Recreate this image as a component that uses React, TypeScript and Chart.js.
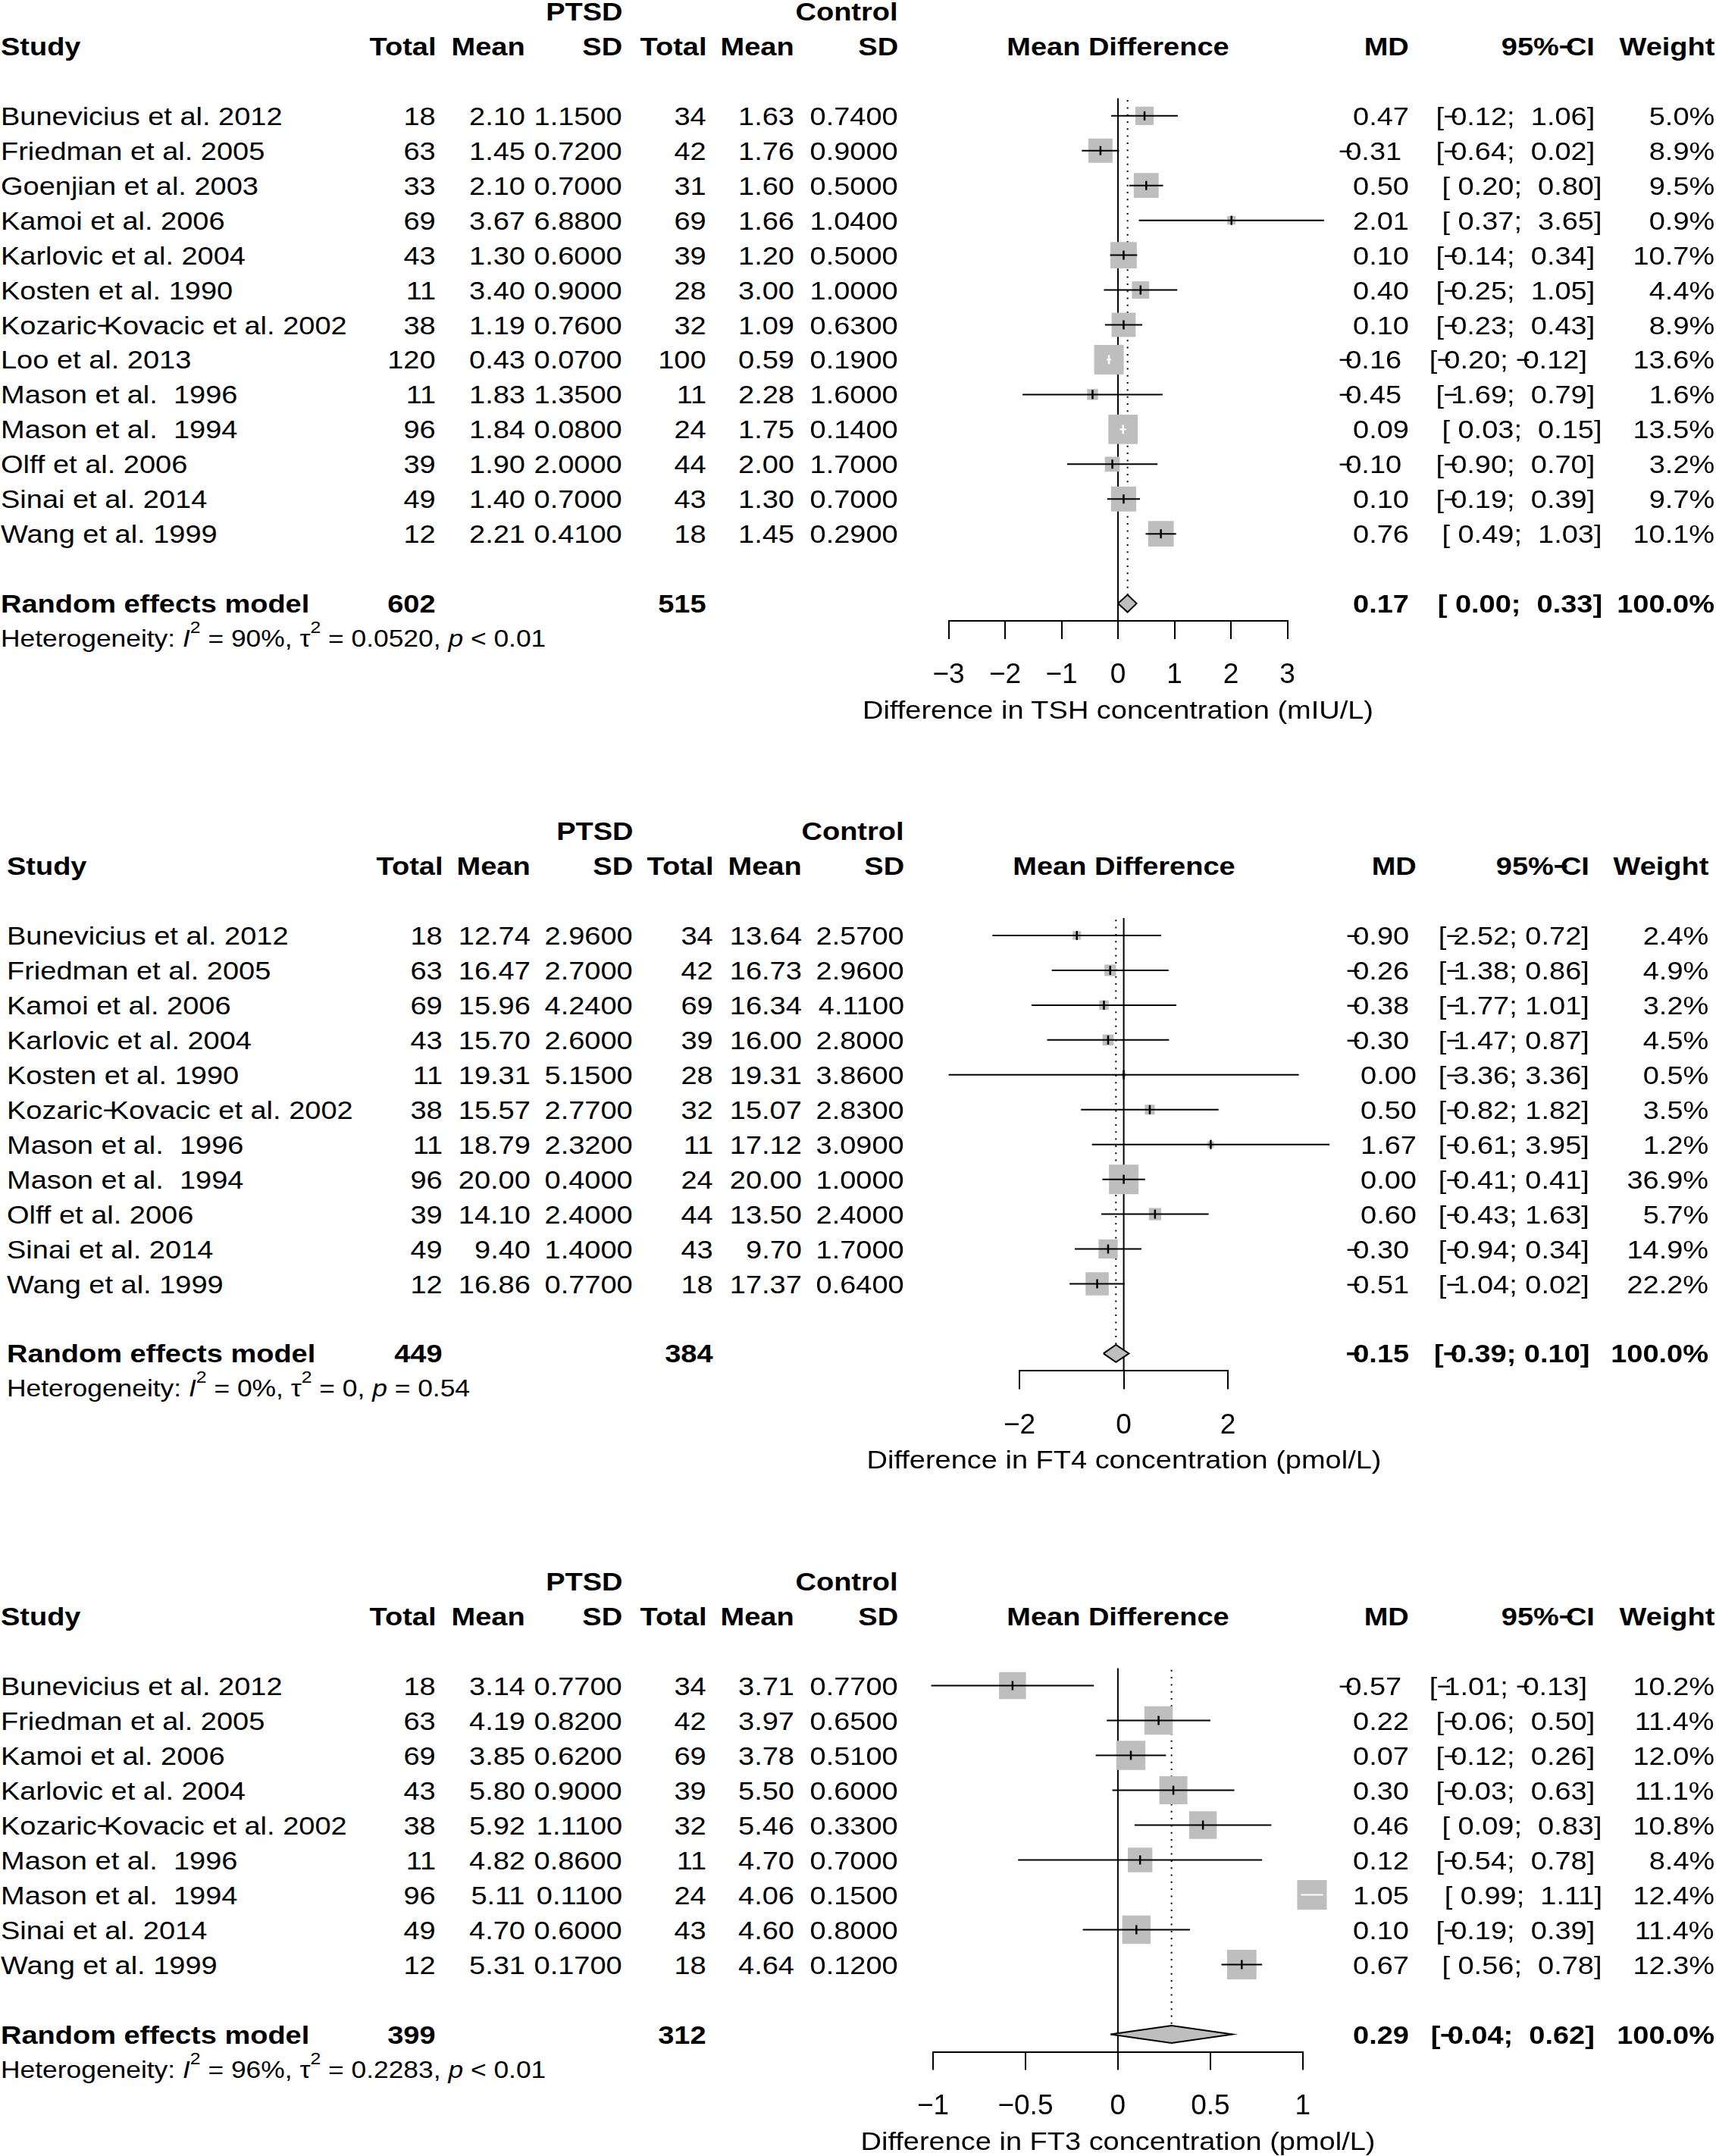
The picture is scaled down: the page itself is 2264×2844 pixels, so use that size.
import React, { useEffect, useRef } from "react";
import { Chart, registerables } from "chart.js";

Chart.register(...registerables);

// ================= DATA: TSH =================
const tshStudies = ["Bunevicius et al. 2012", "Friedman et al. 2005", "Goenjian et al. 2003", "Kamoi et al. 2006", "Karlovic et al. 2004", "Kosten et al. 1990", "Kozaric-Kovacic et al. 2002", "Loo et al. 2013", "Mason et al.  1996", "Mason et al.  1994", "Olff et al. 2006", "Sinai et al. 2014", "Wang et al. 1999"];
const tshPtsdTotal = [18, 63, 33, 69, 43, 11, 38, 120, 11, 96, 39, 49, 12];
const tshPtsdMean = [2.10, 1.45, 2.10, 3.67, 1.30, 3.40, 1.19, 0.43, 1.83, 1.84, 1.90, 1.40, 2.21];
const tshPtsdSD = [1.15, 0.72, 0.70, 6.88, 0.60, 0.90, 0.76, 0.07, 1.35, 0.08, 2.00, 0.70, 0.41];
const tshCtrlTotal = [34, 42, 31, 69, 39, 28, 32, 100, 11, 24, 44, 43, 18];
const tshCtrlMean = [1.63, 1.76, 1.60, 1.66, 1.20, 3.00, 1.09, 0.59, 2.28, 1.75, 2.00, 1.30, 1.45];
const tshCtrlSD = [0.74, 0.90, 0.50, 1.04, 0.50, 1.00, 0.63, 0.19, 1.60, 0.14, 1.70, 0.70, 0.29];
const tshMD = [0.47, -0.31, 0.50, 2.01, 0.10, 0.40, 0.10, -0.16, -0.45, 0.09, -0.10, 0.10, 0.76];
const tshLower = [-0.12, -0.64, 0.20, 0.37, -0.14, -0.25, -0.23, -0.20, -1.69, 0.03, -0.90, -0.19, 0.49];
const tshUpper = [1.06, 0.02, 0.80, 3.65, 0.34, 1.05, 0.43, -0.12, 0.79, 0.15, 0.70, 0.39, 1.03];
const tshWeight = [5.0, 8.9, 9.5, 0.9, 10.7, 4.4, 8.9, 13.6, 1.6, 13.5, 3.2, 9.7, 10.1];
const tshTotals = [602, 515];
const tshSummary = [0.17, 0.00, 0.33];
const tshHet = ["90%", "0.0520", "< 0.01"];
const tshTicks = [-3, -2, -1, 0, 1, 2, 3];
const tshTitle = "Difference in TSH concentration (mIU/L)";

// ================= DATA: FT4 =================
const ft4Studies = ["Bunevicius et al. 2012", "Friedman et al. 2005", "Kamoi et al. 2006", "Karlovic et al. 2004", "Kosten et al. 1990", "Kozaric-Kovacic et al. 2002", "Mason et al.  1996", "Mason et al.  1994", "Olff et al. 2006", "Sinai et al. 2014", "Wang et al. 1999"];
const ft4PtsdTotal = [18, 63, 69, 43, 11, 38, 11, 96, 39, 49, 12];
const ft4PtsdMean = [12.74, 16.47, 15.96, 15.70, 19.31, 15.57, 18.79, 20.00, 14.10, 9.40, 16.86];
const ft4PtsdSD = [2.96, 2.70, 4.24, 2.60, 5.15, 2.77, 2.32, 0.40, 2.40, 1.40, 0.77];
const ft4CtrlTotal = [34, 42, 69, 39, 28, 32, 11, 24, 44, 43, 18];
const ft4CtrlMean = [13.64, 16.73, 16.34, 16.00, 19.31, 15.07, 17.12, 20.00, 13.50, 9.70, 17.37];
const ft4CtrlSD = [2.57, 2.96, 4.11, 2.80, 3.86, 2.83, 3.09, 1.00, 2.40, 1.70, 0.64];
const ft4MD = [-0.90, -0.26, -0.38, -0.30, 0.00, 0.50, 1.67, 0.00, 0.60, -0.30, -0.51];
const ft4Lower = [-2.52, -1.38, -1.77, -1.47, -3.36, -0.82, -0.61, -0.41, -0.43, -0.94, -1.04];
const ft4Upper = [0.72, 0.86, 1.01, 0.87, 3.36, 1.82, 3.95, 0.41, 1.63, 0.34, 0.02];
const ft4Weight = [2.4, 4.9, 3.2, 4.5, 0.5, 3.5, 1.2, 36.9, 5.7, 14.9, 22.2];
const ft4Totals = [449, 384];
const ft4Summary = [-0.15, -0.39, 0.10];
const ft4Het = ["0%", "0", "= 0.54"];
const ft4Ticks = [-2, 0, 2];
const ft4Title = "Difference in FT4 concentration (pmol/L)";

// ================= DATA: FT3 =================
const ft3Studies = ["Bunevicius et al. 2012", "Friedman et al. 2005", "Kamoi et al. 2006", "Karlovic et al. 2004", "Kozaric-Kovacic et al. 2002", "Mason et al.  1996", "Mason et al.  1994", "Sinai et al. 2014", "Wang et al. 1999"];
const ft3PtsdTotal = [18, 63, 69, 43, 38, 11, 96, 49, 12];
const ft3PtsdMean = [3.14, 4.19, 3.85, 5.80, 5.92, 4.82, 5.11, 4.70, 5.31];
const ft3PtsdSD = [0.77, 0.82, 0.62, 0.90, 1.11, 0.86, 0.11, 0.60, 0.17];
const ft3CtrlTotal = [34, 42, 69, 39, 32, 11, 24, 43, 18];
const ft3CtrlMean = [3.71, 3.97, 3.78, 5.50, 5.46, 4.70, 4.06, 4.60, 4.64];
const ft3CtrlSD = [0.77, 0.65, 0.51, 0.60, 0.33, 0.70, 0.15, 0.80, 0.12];
const ft3MD = [-0.57, 0.22, 0.07, 0.30, 0.46, 0.12, 1.05, 0.10, 0.67];
const ft3Lower = [-1.01, -0.06, -0.12, -0.03, 0.09, -0.54, 0.99, -0.19, 0.56];
const ft3Upper = [-0.13, 0.50, 0.26, 0.63, 0.83, 0.78, 1.11, 0.39, 0.78];
const ft3Weight = [10.2, 11.4, 12.0, 11.1, 10.8, 8.4, 12.4, 11.4, 12.3];
const ft3Totals = [399, 312];
const ft3Summary = [0.29, -0.04, 0.62];
const ft3Het = ["96%", "0.2283", "< 0.01"];
const ft3Ticks = [-1, -0.5, 0, 0.5, 1];
const ft3Title = "Difference in FT3 concentration (pmol/L)";

// ================= STYLE / LAYOUT =================
const FONT = "'Liberation Sans', Arial, Helvetica, sans-serif";
const PAGE_W = 2264;
const PAGE_H = 2844;
const STRETCH = 1.12;
const MAIN_PX = 38 / STRETCH;
const HET_PX = 35.4 / STRETCH;
const D_SHIFT = 10;
const MINUS = "\u2212";
const GRAY = "#BEBEBE";

const TICK_LEN = 24;
const AX_FONT = 37;
const AX_LH = AX_FONT * 1.2;
const LABEL_CENTER = 72;
const TITLE_OFFSET = 117;
const TICK_PAD = LABEL_CENTER - TICK_LEN - AX_LH / 2;
const SCALE_H = TICK_LEN + 2 * TICK_PAD + AX_LH;

interface Cols { study: number; ptsdTotal: number; ptsdMean: number; ptsdSD: number; ctrlTotal: number; ctrlMean: number; ctrlSD: number; md: number; ci: number; weight: number; }
interface Layout { x0: number; unit: number; row0: number; sp: number; cols: Cols; }
interface PanelData {
  studies: string[]; ptsdTotal: number[]; ptsdMean: number[]; ptsdSD: number[];
  ctrlTotal: number[]; ctrlMean: number[]; ctrlSD: number[];
  md: number[]; lower: number[]; upper: number[]; weight: number[];
  totals: number[]; summary: number[]; het: string[]; ticks: number[]; title: string;
}

const colsTop: Cols = { study: 1, ptsdTotal: 575, ptsdMean: 692.5, ptsdSD: 821, ctrlTotal: 932, ctrlMean: 1048, ctrlSD: 1185, md: 1859, ci: 2114, weight: 2262 };
const colsMid: Cols = { study: 9, ptsdTotal: 584, ptsdMean: 700, ptsdSD: 835, ctrlTotal: 941, ctrlMean: 1058, ctrlSD: 1193, md: 1869, ci: 2107, weight: 2254 };

const panels: { d: PanelData; L: Layout }[] = [
  {
    d: { studies: tshStudies, ptsdTotal: tshPtsdTotal, ptsdMean: tshPtsdMean, ptsdSD: tshPtsdSD, ctrlTotal: tshCtrlTotal, ctrlMean: tshCtrlMean, ctrlSD: tshCtrlSD, md: tshMD, lower: tshLower, upper: tshUpper, weight: tshWeight, totals: tshTotals, summary: tshSummary, het: tshHet, ticks: tshTicks, title: tshTitle },
    L: { x0: 1475, unit: 74.5, row0: 152.8, sp: 45.95, cols: colsTop },
  },
  {
    d: { studies: ft4Studies, ptsdTotal: ft4PtsdTotal, ptsdMean: ft4PtsdMean, ptsdSD: ft4PtsdSD, ctrlTotal: ft4CtrlTotal, ctrlMean: ft4CtrlMean, ctrlSD: ft4CtrlSD, md: ft4MD, lower: ft4Lower, upper: ft4Upper, weight: ft4Weight, totals: ft4Totals, summary: ft4Summary, het: ft4Het, ticks: ft4Ticks, title: ft4Title },
    L: { x0: 1482.6, unit: 68.75, row0: 1234, sp: 45.95, cols: colsMid },
  },
  {
    d: { studies: ft3Studies, ptsdTotal: ft3PtsdTotal, ptsdMean: ft3PtsdMean, ptsdSD: ft3PtsdSD, ctrlTotal: ft3CtrlTotal, ctrlMean: ft3CtrlMean, ctrlSD: ft3CtrlSD, md: ft3MD, lower: ft3Lower, upper: ft3Upper, weight: ft3Weight, totals: ft3Totals, summary: ft3Summary, het: ft3Het, ticks: ft3Ticks, title: ft3Title },
    L: { x0: 1474.9, unit: 243.9, row0: 2223.5, sp: 46.0, cols: colsTop },
  },
];

// ================= HELPERS =================
const fmt = (v: number, d: number) => (v < 0 ? MINUS : "") + Math.abs(v).toFixed(d);

function ciStrings(lo: number[], hi: number[]): string[] {
  const padLo = lo.some((v) => v < 0);
  const padHi = hi.some((v) => v < 0);
  const f = (v: number, pad: boolean) => (v < 0 ? MINUS : pad ? " " : "") + Math.abs(v).toFixed(2);
  return lo.map((l, i) => `[${f(l, padLo)}; ${f(hi[i], padHi)}]`);
}

const MINUS_STYLE: React.CSSProperties = { display: "inline-block", width: "0.24em", transform: "scaleX(0.85)", transformOrigin: "left center" };
const SUP_STYLE: React.CSSProperties = { fontSize: "0.7em", verticalAlign: "0.8em", lineHeight: 0 };

function Txt({ x, y, align, text, bold }: { x: number; y: number; align: "left" | "right" | "center"; text: string; bold?: boolean }) {
  const parts = text.split(/[-\u2212]/);
  const nMinus = parts.length - 1;
  const kids: React.ReactNode[] = [];
  parts.forEach((p, i) => {
    if (i > 0) kids.push(<span key={`m${i}`} style={MINUS_STYLE}>{MINUS}</span>);
    if (p) kids.push(<span key={`t${i}`}>{p}</span>);
  });
  const style: React.CSSProperties = {
    position: "absolute", top: y - 25, height: 50, lineHeight: "50px", whiteSpace: "pre",
    fontSize: MAIN_PX, fontWeight: bold ? 700 : 400,
  };
  if (align === "left") Object.assign(style, { left: x, transform: `scaleX(${STRETCH})`, transformOrigin: "left center" });
  else if (align === "right") Object.assign(style, { right: PAGE_W - (x - nMinus * D_SHIFT), transform: `scaleX(${STRETCH})`, transformOrigin: "right center" });
  else Object.assign(style, { left: x, transform: `translateX(-50%) scaleX(${STRETCH})`, transformOrigin: "center center" });
  return <div style={style}>{kids}</div>;
}

function geometry(d: PanelData, L: Layout) {
  const R = d.studies.length + 1;
  const xmin = d.ticks[0];
  const xmax = d.ticks[d.ticks.length - 1];
  const cl = L.x0 + xmin * L.unit;
  const cr = L.x0 + xmax * L.unit;
  const ct = L.row0 - 0.5 * L.sp;
  const cb = L.row0 + (R + 0.5) * L.sp;
  const canvasLeft = Math.floor(cl - 170);
  const canvasRight = Math.ceil(cr + 170);
  const canvasTop = Math.floor(ct - 20);
  const canvasBottom = Math.min(PAGE_H, Math.ceil(cb + SCALE_H + 3));
  return {
    R, xmin, xmax, canvasLeft, canvasTop, cb, centerX: (cl + cr) / 2,
    width: canvasRight - canvasLeft, height: canvasBottom - canvasTop,
    pad: { left: cl - canvasLeft, right: canvasRight - cr, top: ct - canvasTop, bottom: canvasBottom - (cb + SCALE_H) },
  };
}

function ForestChart({ d, L }: { d: PanelData; L: Layout }) {
  const ref = useRef<HTMLCanvasElement>(null);
  const g = geometry(d, L);
  useEffect(() => {
    const R = g.R;
    const wmax = Math.max(...d.weight);
    const sides = d.weight.map((w) => 37.5 * Math.sqrt(w / wmax) + 1.5);
    const inside = d.md.map((m, i) => (m - d.lower[i]) * L.unit <= sides[i] / 2 && (d.upper[i] - m) * L.unit <= sides[i] / 2);
    const [est, sLo, sHi] = d.summary;
    const datasets: any[] = [];
    datasets.push({ data: [{ x: 0, y: -0.5 }, { x: 0, y: R + 0.5 }], borderColor: "#000", borderWidth: 2, pointRadius: 0, order: 6, clip: false });
    datasets.push({ data: [{ x: est, y: -0.45 }, { x: est, y: R - 0.25 }], borderColor: "#000", borderWidth: 2, borderDash: [2, 7.3], pointRadius: 0, order: 5, clip: false });
    datasets.push({
      data: d.md.map((m, i) => ({ x: m, y: i })), showLine: false, pointStyle: "rect",
      pointRadius: sides.map((s) => s / Math.SQRT2), pointBackgroundColor: GRAY, pointBorderWidth: 0, order: 4, clip: false,
    });
    d.md.forEach((_, i) => {
      datasets.push({ data: [{ x: d.lower[i], y: i }, { x: d.upper[i], y: i }], borderColor: inside[i] ? "#fff" : "#000", borderWidth: 2, pointRadius: 0, order: 3, clip: false });
    });
    datasets.push({
      data: d.md.map((m, i) => ({ x: m, y: i })), showLine: false, pointStyle: "line", pointRotation: 90,
      pointRadius: 6, pointBorderWidth: 2.5, pointBorderColor: inside.map((v) => (v ? "#fff" : "#000")), order: 2, clip: false,
    });
    datasets.push({
      data: [{ x: sLo, y: R }, { x: est, y: R - 0.25 }, { x: sHi, y: R }, { x: est, y: R + 0.25 }, { x: sLo, y: R }],
      fill: "shape", backgroundColor: GRAY, borderColor: "#000", borderWidth: 2, pointRadius: 0, order: 1, clip: false,
    });
    const ticks = d.ticks;
    const chart = new Chart(ref.current as HTMLCanvasElement, {
      type: "line",
      data: { datasets },
      options: {
        responsive: false, animation: false, events: [], devicePixelRatio: 1,
        layout: { autoPadding: false, padding: g.pad },
        plugins: { legend: { display: false }, tooltip: { enabled: false } },
        scales: {
          x: {
            type: "linear", min: g.xmin, max: g.xmax,
            afterBuildTicks: (s: any) => { s.ticks = ticks.map((v) => ({ value: v })); },
            grid: { display: true, drawOnChartArea: false, drawTicks: true, tickLength: TICK_LEN, color: "#000", lineWidth: 2 },
            border: { display: true, color: "#000", width: 2 },
            ticks: {
              color: "#000", padding: TICK_PAD, autoSkip: false, maxRotation: 0, minRotation: 0,
              font: { family: FONT, size: AX_FONT, lineHeight: 1.2 },
              callback: (v: any) => (Number(v) < 0 ? MINUS + String(Math.abs(Number(v))) : String(v)),
            },
            title: { display: false, text: d.title },
          },
          y: { type: "linear", display: false, reverse: true, min: -0.5, max: R + 0.5 },
        },
      } as any,
    });
    return () => chart.destroy();
  }, []);
  return (
    <canvas ref={ref} width={g.width} height={g.height}
      style={{ position: "absolute", left: g.canvasLeft, top: g.canvasTop, width: g.width, height: g.height }} />
  );
}

function Panel({ d, L }: { d: PanelData; L: Layout }) {
  const n = d.studies.length;
  const R = n + 1;
  const c = L.cols;
  const g = geometry(d, L);
  const y = (i: number) => L.row0 + i * L.sp;
  const ci = ciStrings([...d.lower, d.summary[1]], [...d.upper, d.summary[2]]);
  const items: React.ReactNode[] = [];
  let k = 0;
  const add = (x: number, yy: number, align: "left" | "right" | "center", text: string, bold = false) =>
    items.push(<Txt key={k++} x={x} y={yy} align={align} text={text} bold={bold} />);

  add(c.ptsdSD, y(-3), "right", "PTSD", true);
  add(c.ctrlSD, y(-3), "right", "Control", true);
  add(c.study, y(-2), "left", "Study", true);
  add(c.ptsdTotal, y(-2), "right", "Total", true);
  add(c.ptsdMean, y(-2), "right", "Mean", true);
  add(c.ptsdSD, y(-2), "right", "SD", true);
  add(c.ctrlTotal, y(-2), "right", "Total", true);
  add(c.ctrlMean, y(-2), "right", "Mean", true);
  add(c.ctrlSD, y(-2), "right", "SD", true);
  add(L.x0, y(-2), "center", "Mean Difference", true);
  add(c.md, y(-2), "right", "MD", true);
  add(c.ci, y(-2), "right", "95%-CI", true);
  add(c.weight, y(-2), "right", "Weight", true);

  for (let i = 0; i < n; i++) {
    add(c.study, y(i), "left", d.studies[i]);
    add(c.ptsdTotal, y(i), "right", String(d.ptsdTotal[i]));
    add(c.ptsdMean, y(i), "right", fmt(d.ptsdMean[i], 2));
    add(c.ptsdSD, y(i), "right", fmt(d.ptsdSD[i], 4));
    add(c.ctrlTotal, y(i), "right", String(d.ctrlTotal[i]));
    add(c.ctrlMean, y(i), "right", fmt(d.ctrlMean[i], 2));
    add(c.ctrlSD, y(i), "right", fmt(d.ctrlSD[i], 4));
    add(c.md, y(i), "right", fmt(d.md[i], 2));
    add(c.ci, y(i), "right", ci[i]);
    add(c.weight, y(i), "right", d.weight[i].toFixed(1) + "%");
  }
  add(c.study, y(R), "left", "Random effects model", true);
  add(c.ptsdTotal, y(R), "right", String(d.totals[0]), true);
  add(c.ctrlTotal, y(R), "right", String(d.totals[1]), true);
  add(c.md, y(R), "right", fmt(d.summary[0], 2), true);
  add(c.ci, y(R), "right", ci[n], true);
  add(c.weight, y(R), "right", "100.0%", true);
  add(g.centerX, g.cb + TITLE_OFFSET, "center", d.title);

  const hetStyle: React.CSSProperties = {
    position: "absolute", left: c.study, top: y(R + 1) - 25, height: 50, lineHeight: "50px", whiteSpace: "pre",
    fontSize: HET_PX, transform: `scaleX(${STRETCH})`, transformOrigin: "left center",
  };
  return (
    <>
      <ForestChart d={d} L={L} />
      {items}
      <div style={hetStyle}>
        {"Heterogeneity: "}<i>I</i><sup style={SUP_STYLE}>2</sup>{` = ${d.het[0]}, \u03c4`}<sup style={SUP_STYLE}>2</sup>{` = ${d.het[1]}, `}<i>p</i>{` ${d.het[2]}`}
      </div>
    </>
  );
}

export default function App() {
  return (
    <div style={{ position: "absolute", left: 0, top: 0, width: PAGE_W, height: PAGE_H, overflow: "hidden", background: "#fff", color: "#000", fontFamily: FONT }}>
      {panels.map((p, i) => (
        <Panel key={i} d={p.d} L={p.L} />
      ))}
    </div>
  );
}
